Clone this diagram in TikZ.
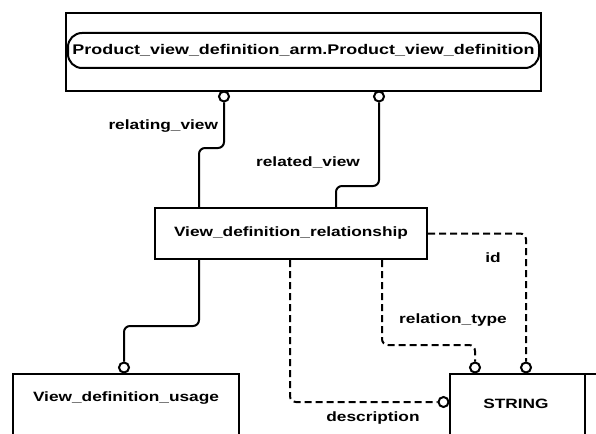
\documentclass[tikz,border=0pt]{standalone}
\usepackage{fontspec}
\newfontfamily\dfont{Liberation Sans}[FakeStretch=1.28]
\begin{document}
\begin{tikzpicture}[x=1pt,y=-1pt, line width=2pt,
  box/.style={draw, rectangle, inner sep=0pt},
  ring/.style={draw, circle, inner sep=0pt, minimum size=10pt, fill=white},
  lbl/.style={font=\dfont\bfseries\fontsize{13.5}{15}\selectfont, inner sep=0pt},
  biglbl/.style={font=\dfont\bfseries\fontsize{14}{16}\selectfont, inner sep=0pt},
  solidlink/.style={draw, rounded corners=6pt},
  dashlink/.style={draw, dash pattern=on 7pt off 4pt, rounded corners=6pt}]
\clip (0,0) rectangle (596,433);
\fill[white] (0,0) rectangle (596,433);
% boxes
\node[box, minimum width=475pt, minimum height=78pt] (pvd) at (303.5,52) {};
\node[box, rounded corners=14pt, minimum width=471pt, minimum height=35pt, biglbl] (pvdname) at (303.5,50.5) {Product\_view\_definition\_arm.Product\_view\_definition};
\node[box, minimum width=272pt, minimum height=51pt, lbl] (vdr) at (291,233.5) {View\_definition\_relationship};
\node[box, minimum width=226pt, minimum height=80pt, anchor=north] (vdu) at (126,373) {};
\node[lbl] (vdutext) at (126,398) {View\_definition\_usage};
\node[box, minimum width=150pt, minimum height=80pt, anchor=north west] (str) at (449,373) {};
\draw ([xshift=136pt]str.north west) -- ([xshift=136pt]str.south west);
\node[lbl] (strtext) at (516,404) {STRING};
% rings
\node[ring] (c1) at (224,96.5) {};
\node[ring] (c2) at (379,96.5) {};
\node[ring] (c3) at (124,367.5) {};
\node[ring] (c4) at (475,367.5) {};
\node[ring] (c5) at (526,367.5) {};
\node[ring] (c6) at (443.5,402) {};
% connectors
\draw[solidlink] (c1.south) -- (224,148) -- (199,148) -- (199,0 |- vdr.north);
\draw[solidlink] (c2.south) -- (379,186) -- (336,186) -- (336,0 |- vdr.north);
\draw[solidlink] (199,0 |- vdr.south) -- (199,326) -- (124,326) -- (c3.north);
\draw[dashlink] (vdr.east) -- (526,233.5) -- (c5.north);
\draw[dashlink] (382,0 |- vdr.south) -- (382,345) -- (475,345) -- (c4.north);
\draw[dashlink] (290,0 |- vdr.south) -- (290,402) -- (c6.west);
% labels
\node[lbl, anchor=east] (l1) at (219,126) {relating\_view};
\node[lbl] (l2) at (308,162) {related\_view};
\node[lbl] (l3) at (493,258) {id};
\node[lbl] (l4) at (453,320) {relation\_type};
\node[lbl] (l5) at (373,418) {description};
\end{tikzpicture}
\end{document}
